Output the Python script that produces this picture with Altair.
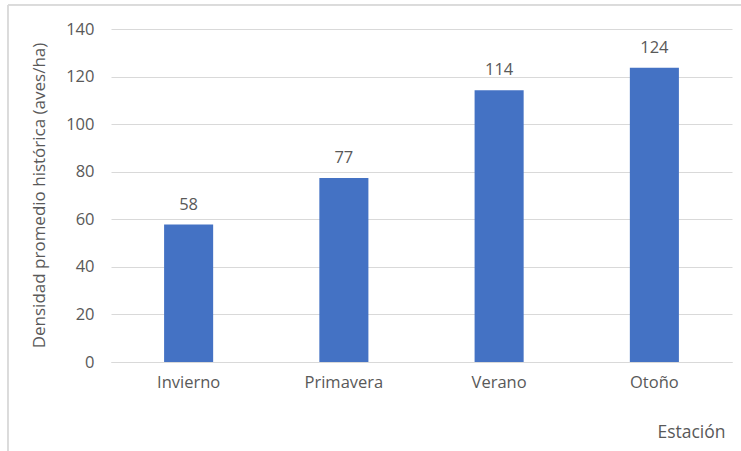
import altair as alt
import pandas as pd

estaciones = ["Invierno", "Primavera", "Verano", "Otoño"]
densidad = [57.8, 77.4, 114.3, 123.7]
etiquetas = ["58", "77", "114", "124"]

df = pd.DataFrame({"Estación": estaciones, "Densidad": densidad, "Etiqueta": etiquetas})

FONT = "Open Sans"
TXT = "#595959"
GRID = "#d9d9d9"

x_enc = alt.X(
    "Estación:N",
    sort=estaciones,
    scale=alt.Scale(paddingInner=0.684, paddingOuter=0.342),
    axis=alt.Axis(
        title="Estación",
        titleAnchor="end",
        titleAlign="right",
        titleX=614,
        titleY=75,
        titleBaseline="alphabetic",
        titleFontSize=17.5,
        titleFontWeight="normal",
        titleColor=TXT,
        titleFont=FONT,
        labelAngle=0,
        labelFontSize=16.5,
        labelColor=TXT,
        labelFont=FONT,
        labelPadding=12,
        ticks=False,
        domain=True,
        domainColor=GRID,
        domainWidth=1,
    ),
)

y_enc = alt.Y(
    "Densidad:Q",
    scale=alt.Scale(domain=[0, 140], nice=False),
    axis=alt.Axis(
        title="Densidad promedio histórica (aves/ha)",
        values=[0, 20, 40, 60, 80, 100, 120, 140],
        titleX=-72,
        titleY=166,
        titleAlign="center",
        titleBaseline="middle",
        titleAngle=-90,
        titleFontSize=17,
        titleFontWeight="normal",
        titleColor=TXT,
        titleFont=FONT,
        labelFontSize=16.5,
        labelColor=TXT,
        labelFont=FONT,
        labelPadding=17,
        ticks=False,
        domain=False,
        grid=True,
        gridColor=GRID,
        gridWidth=1,
    ),
)

bars = alt.Chart(df).mark_bar(color="#4472C4").encode(x=x_enc, y=y_enc)

labels = alt.Chart(df).mark_text(
    dy=-12, fontSize=16.5, color=TXT, font=FONT, baseline="bottom"
).encode(x=alt.X("Estación:N", sort=estaciones), y="Densidad:Q", text="Etiqueta:N")

border_left = alt.Chart(df).mark_rule(color=GRID, strokeWidth=1).encode(
    x=alt.value(-103), y=alt.value(-24), y2=alt.value(430)
)
border_top = alt.Chart(df).mark_rule(color=GRID, strokeWidth=1).encode(
    x=alt.value(-103), x2=alt.value(640), y=alt.value(-24)
)

chart = (
    alt.layer(border_left, border_top, bars, labels)
    .properties(
        width=621,
        height=333,
        padding={"left": 111, "top": 29, "right": 9, "bottom": 89},
        autosize=alt.AutoSizeParams(type="none"),
        background="white",
    )
    .configure_view(stroke=None)
)

chart.save("out.html", embed_options={"renderer": "svg", "actions": False})
